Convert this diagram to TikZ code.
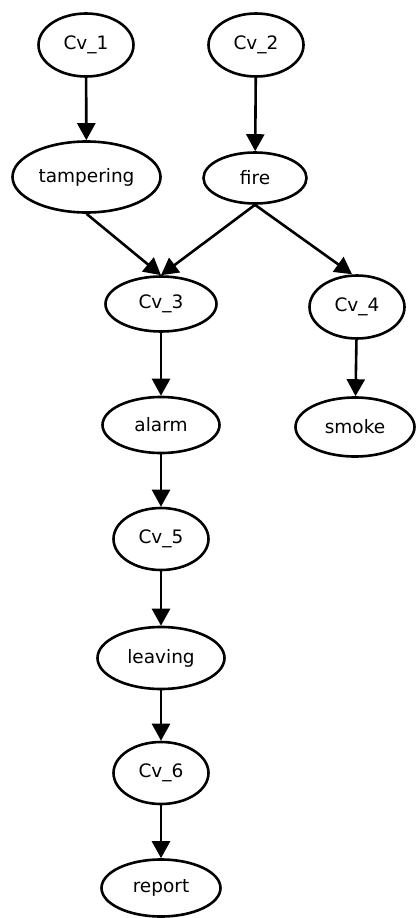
\documentclass[tikz,border=0pt]{standalone}
\usepackage{fontspec}
\setmainfont{DejaVu Sans}
\usetikzlibrary{shapes.geometric,arrows.meta}
\begin{document}
\begin{tikzpicture}[x=1pt,y=-1pt,
  var/.style={draw, ellipse, line width=2.6pt, inner sep=0pt,
    font=\fontsize{18.5}{22}\selectfont},
  edge/.style={line width=2.6pt, -{Triangle[length=17pt,width=18pt]}}]
\useasboundingbox (0,0) rectangle (416,918);
\node[var, minimum width=95pt, minimum height=63pt] (cv1) at (86,45) {Cv\_1};
\node[var, minimum width=95pt, minimum height=63pt] (cv2) at (256,45) {Cv\_2};
\node[var, minimum width=148pt, minimum height=71pt] (tampering) at (86.5,177) {tampering};
\node[var, minimum width=103pt, minimum height=51pt] (fire) at (255,178) {fire};
\node[var, minimum width=111pt, minimum height=55pt] (cv3) at (161,304) {Cv\_3};
\node[var, minimum width=95pt, minimum height=63pt] (cv4) at (357,307) {Cv\_4};
\node[var, minimum width=117pt, minimum height=56pt] (alarm) at (161,425) {alarm};
\node[var, minimum width=119pt, minimum height=59pt] (smoke) at (355,427) {smoke};
\node[var, minimum width=95pt, minimum height=62pt] (cv5) at (161,539) {Cv\_5};
\node[var, minimum width=127pt, minimum height=62pt] (leaving) at (161,658) {leaving};
\node[var, minimum width=95pt, minimum height=62pt] (cv6) at (161,773) {Cv\_6};
\node[var, minimum width=119pt, minimum height=57pt] (report) at (161,888) {report};
\draw[edge] (cv1) -- (tampering);
\draw[edge] (cv2) -- (fire);
\draw[edge] (tampering.south) -- (cv3.north);
\draw[edge] (fire.south) -- (cv3.north);
\draw[edge] (fire.south) -- ([xshift=-5pt]cv4.north);
\draw[edge] (cv3) -- (alarm);
\draw[edge] (cv4) -- (smoke);
\draw[edge] (alarm) -- (cv5);
\draw[edge] (cv5) -- (leaving);
\draw[edge] (leaving) -- (cv6);
\draw[edge] (cv6) -- (report);
\end{tikzpicture}
\end{document}
